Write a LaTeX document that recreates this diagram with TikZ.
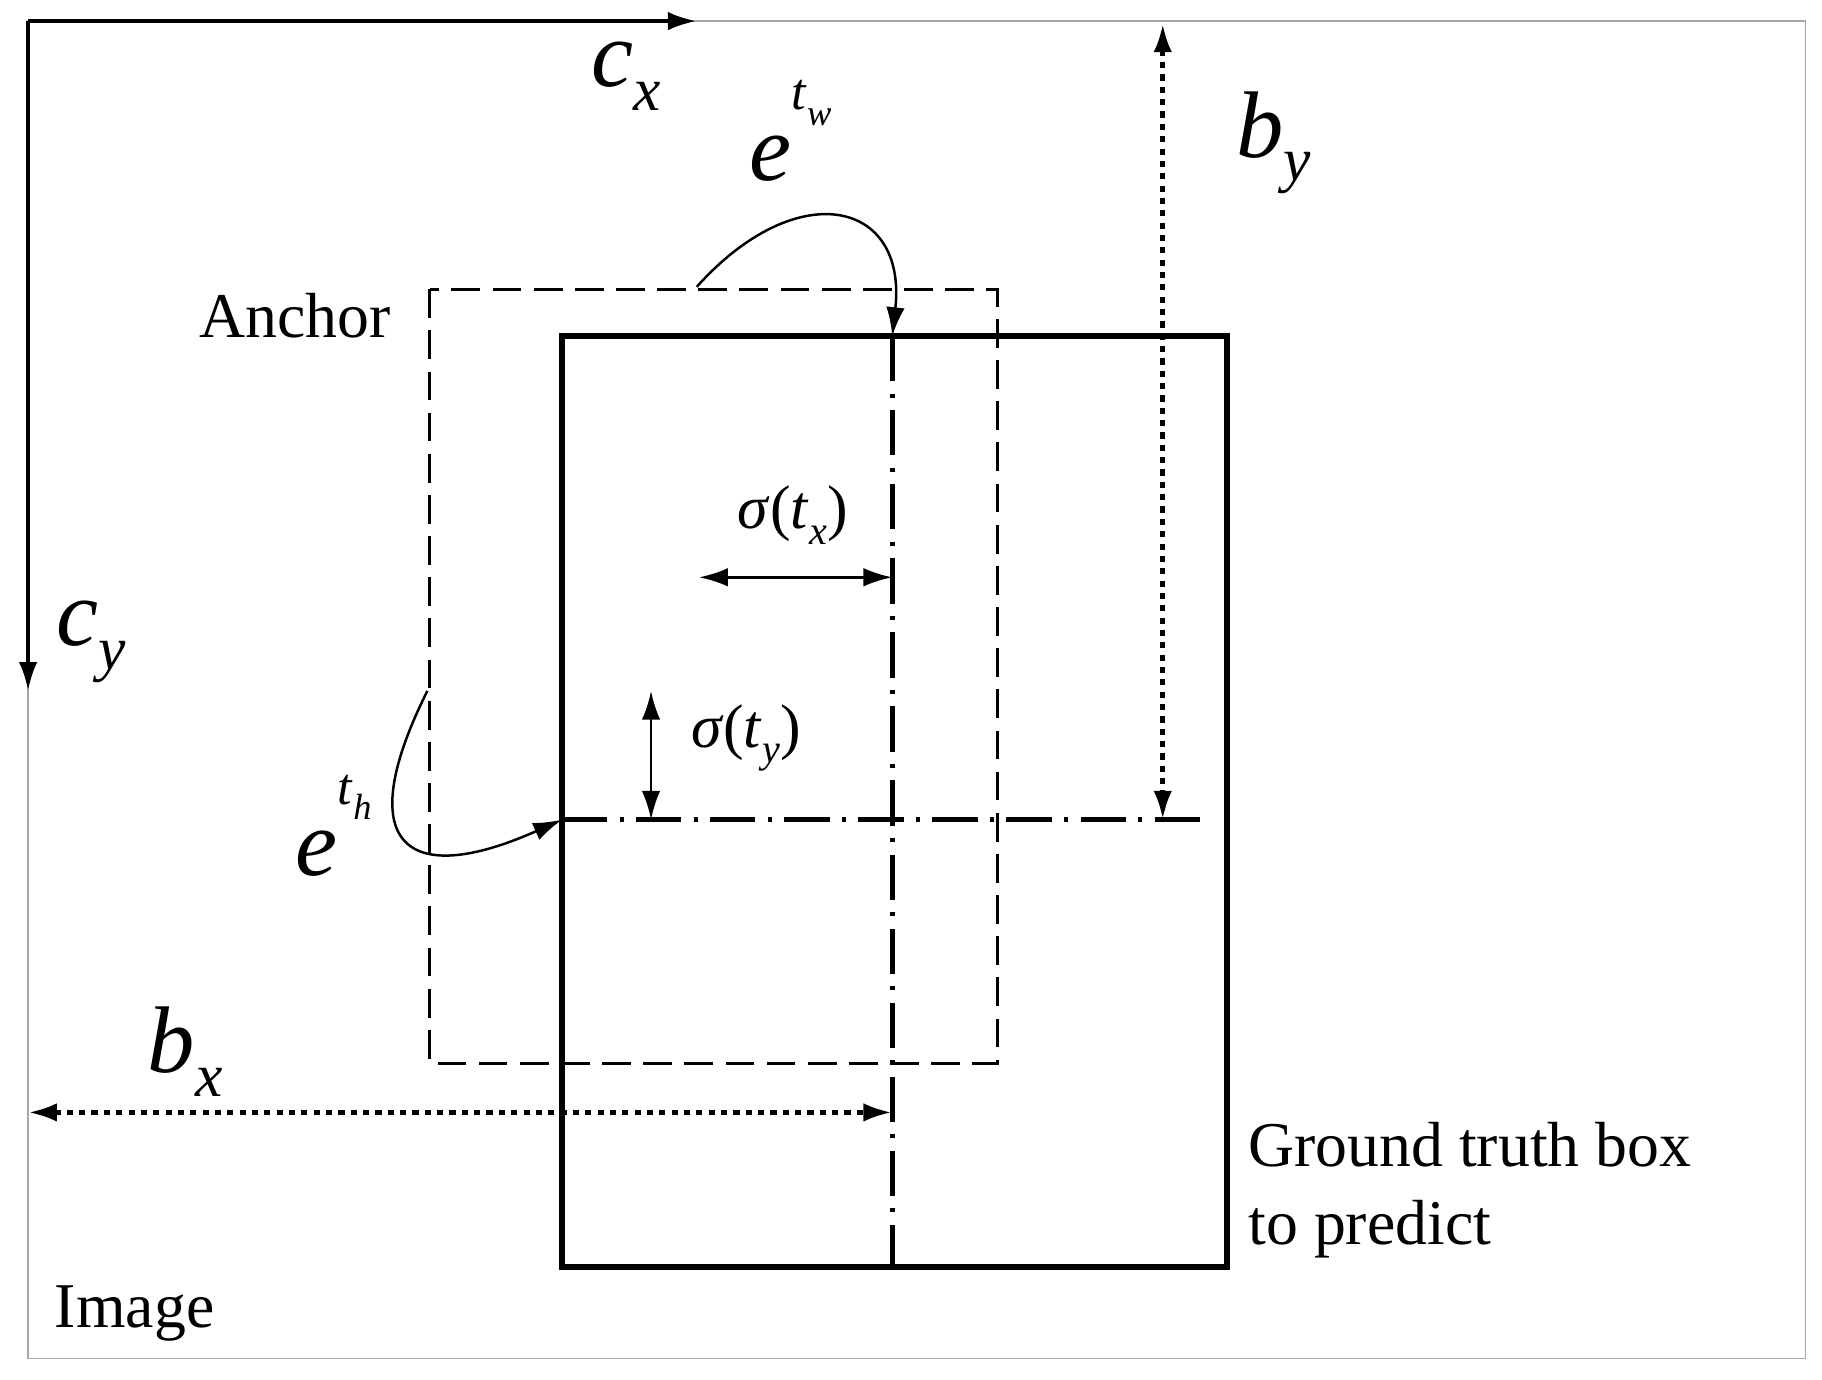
\documentclass[tikz,border=0pt]{standalone}
\usepackage{fontspec}
\setmainfont{Liberation Serif}
\usetikzlibrary{arrows.meta}
\newcommand{\mysub}[2]{\textit{#1}\raisebox{-0.25em}{\scalebox{0.65}{\textit{#2}}}}
\newcommand{\myexp}[2]{\textit{e}\raisebox{0.75em}{\scalebox{0.55}{\textit{t}\raisebox{-0.3em}{\scalebox{0.7}{\textit{#2}}}}}}
\begin{document}
\begin{tikzpicture}[x=0.02cm,y=-0.02cm,
  tip/.style={-{Latex[length=14pt,width=9pt]}},
  dtip/.style={{Latex[length=14pt,width=9pt]}-{Latex[length=14pt,width=9pt]}},
  dots/.style={line width=2.4pt,dash pattern=on 3pt off 3pt},
  lab/.style={font=\fontsize{31}{38}\selectfont},
  slab/.style={font=\fontsize{30}{34}\selectfont},
  mlab/.style={font=\fontsize{46}{50}\selectfont},
  dashdot/.style={line width=2.2pt,dash pattern=on 22pt off 6pt on 2pt off 6pt}]
\useasboundingbox (0,0) rectangle (1556,1178);
\draw[gray!70,line width=0.8pt] (24,18) rectangle (1542,1160);
\coordinate (o) at (24,18);
\coordinate (cxe) at (595,18);
\coordinate (cye) at (24,590);
\draw[tip,line width=2pt] (o) -- (cxe);
\draw[tip,line width=2pt] (o) -- (cye);
\node[mlab] (cx) at (535,65) {\mysub{c}{x}};
\node[mlab] (cy) at (78,548) {\mysub{c}{y}};
\draw[line width=1.5pt,dash pattern=on 14pt off 6pt] (367,247) rectangle (852,908);
\draw[line width=3pt] (480,287) rectangle (1048,1082);
\coordinate (vt) at (762,287); \coordinate (vb) at (762,1082);
\coordinate (hl) at (480,700); \coordinate (hr) at (1035,700);
\draw[dashdot] (vt) -- (vb);
\draw[dashdot] (hl) -- (hr);
\coordinate (byt) at (993,20); \coordinate (byb) at (993,700);
\draw[dtip,dots] (byt) -- (byb);
\node[mlab] (by) at (1088,122) {\mysub{b}{y}};
\coordinate (bxl) at (24,950); \coordinate (bxr) at (762,950);
\draw[dtip,dots] (bxl) -- (bxr);
\node[mlab] (bx) at (158,898) {\mysub{b}{x}};
\coordinate (sxl) at (597,493); \coordinate (sxr) at (762,493);
\draw[dtip,line width=1.3pt] (sxl) -- (sxr);
\node[slab] (sx) at (677,440) {\textit{σ}(\mysub{t}{x})};
\coordinate (syt) at (556,590); \coordinate (syb) at (556,700);
\draw[dtip,line width=1.3pt] (syt) -- (syb);
\node[slab] (sy) at (637,630) {\textit{σ}(\mysub{t}{y})};
\node[mlab] (ew) at (675,112) {\myexp{e}{w}};
\coordinate (ews) at (595,245);
\draw[tip,line width=1.2pt] (ews) .. controls (680,150) and (775,170) .. (vt);
\node[mlab] (eh) at (285,705) {\myexp{e}{h}};
\coordinate (ehs) at (365,590);
\draw[tip,line width=1.2pt] (ehs) .. controls (300,720) and (345,760) .. (hl);
\node[lab] (anchor) at (252,270) {Anchor};
\node[lab,align=left,anchor=north west] (gt) at (1060,952) {Ground truth box\\to predict};
\node[lab] (img) at (115,1122) {Image};
\end{tikzpicture}
\end{document}
